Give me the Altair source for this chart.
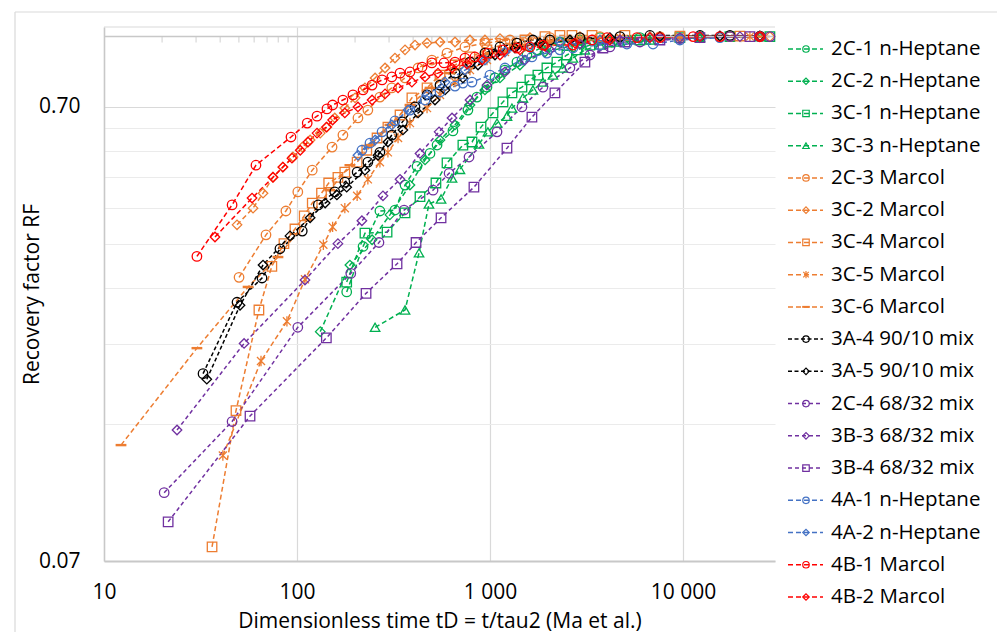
import altair as alt
import pandas as pd

# ---------------- data ----------------
names = ["2C-1 n-Heptane", "2C-2 n-Heptane", "3C-1 n-Heptane", "3C-3 n-Heptane",
         "2C-3 Marcol", "3C-2 Marcol", "3C-4 Marcol", "3C-5 Marcol", "3C-6 Marcol",
         "3A-4 90/10 mix", "3A-5 90/10 mix", "2C-4 68/32 mix", "3B-3 68/32 mix",
         "3B-4 68/32 mix", "4A-1 n-Heptane", "4A-2 n-Heptane", "4B-1 Marcol", "4B-2 Marcol"]

x_2C1 = [181, 220, 269, 322, 363, 419, 489, 532, 643, 769, 856, 965, 1062, 1196, 1380, 1555, 1752, 1973, 2305, 2926, 3715, 5987, 12250, 25060]
y_2C1 = [0.274, 0.345, 0.413, 0.415, 0.471, 0.518, 0.553, 0.577, 0.620, 0.689, 0.736, 0.774, 0.811, 0.844, 0.879, 0.911, 0.935, 0.958, 0.973, 0.983, 0.995, 0.995, 1.0, 1.0]

x_2C2 = [132, 188, 245, 303, 385, 461, 551, 659, 788, 942, 1127, 1430, 1927, 2926, 5313, 12250, 25060]
y_2C2 = [0.224, 0.314, 0.357, 0.405, 0.471, 0.535, 0.592, 0.639, 0.707, 0.763, 0.811, 0.866, 0.925, 0.963, 0.983, 0.995, 1.0]

x_3C1 = [181, 225, 293, 363, 434, 525, 599, 724, 807, 899, 1037, 1168, 1300, 1465, 1611, 1772, 1973, 2223, 2505, 2823, 3297, 4185, 5987, 9648, 17520, 28230]
y_3C1 = [0.288, 0.369, 0.371, 0.409, 0.444, 0.476, 0.527, 0.577, 0.586, 0.632, 0.679, 0.718, 0.752, 0.774, 0.803, 0.823, 0.853, 0.879, 0.911, 0.935, 0.958, 0.973, 0.983, 0.995, 1.0, 1.0]

x_3C3 = [254, 363, 429, 483, 558, 636, 699, 877, 976, 1088, 1225, 1300, 1482, 1670, 1881, 2120, 2388, 2691, 3105, 3715, 4716, 6745, 12250, 25060]
y_3C3 = [0.229, 0.250, 0.334, 0.428, 0.439, 0.488, 0.510, 0.580, 0.617, 0.645, 0.668, 0.696, 0.733, 0.763, 0.794, 0.823, 0.853, 0.897, 0.935, 0.958, 0.973, 0.983, 0.995, 1.0]

x_2C3 = [50.1, 69.1, 87.6, 101, 120, 152, 173, 207, 233, 269, 310, 363, 424, 500, 599, 742, 942, 1270, 2045, 3715, 7600, 17520]
y_2C3 = [0.295, 0.366, 0.413, 0.455, 0.508, 0.571, 0.607, 0.662, 0.689, 0.736, 0.771, 0.811, 0.853, 0.888, 0.920, 0.949, 0.968, 0.983, 0.995, 1.0, 1.0, 1.0]

x_3C2 = [48.9, 59.2, 66.7, 75.1, 84.5, 95.3, 106.5, 117, 132, 143, 157, 177, 200, 225, 254, 286, 322, 363, 409, 472, 551, 659, 788, 942, 1127, 1611, 2926, 6745, 15550, 28230]
y_3C2 = [0.385, 0.419, 0.452, 0.490, 0.516, 0.543, 0.571, 0.592, 0.613, 0.632, 0.662, 0.696, 0.733, 0.771, 0.811, 0.853, 0.897, 0.935, 0.958, 0.968, 0.973, 0.973, 0.983, 0.983, 0.990, 0.995, 1.0, 1.0, 1.0, 1.0]

x_3C4 = [36.3, 48.3, 63.5, 74.1, 85.6, 97.6, 109, 120, 134, 146, 163, 177, 205, 230, 260, 296, 342, 394, 472, 551, 659, 788, 965, 1196, 1518, 1927, 2305, 2660, 3380, 5005, 9648, 19740]
y_3C4 = [0.0752, 0.150, 0.250, 0.312, 0.350, 0.377, 0.403, 0.430, 0.452, 0.476, 0.490, 0.503, 0.529, 0.562, 0.598, 0.632, 0.672, 0.733, 0.771, 0.823, 0.866, 0.902, 0.935, 0.963, 0.983, 1.0, 1.006, 1.006, 1.006, 1.006, 1.003, 1.003]

x_3C5 = [41.3, 65.1, 88.7, 110, 137, 153, 177, 205, 233, 269, 296, 334, 385, 472, 551, 659, 788, 965, 1196, 1518, 2045, 2926, 4716, 9648, 22240]
y_3C5 = [0.1195, 0.193, 0.236, 0.292, 0.348, 0.381, 0.419, 0.446, 0.485, 0.529, 0.556, 0.598, 0.645, 0.696, 0.744, 0.794, 0.844, 0.888, 0.925, 0.953, 0.973, 0.990, 0.995, 1.0, 1.0]

x_3C6 = [12.25, 30.3, 55.8, 79.7, 113, 148, 188, 239, 303, 385, 489, 621, 788, 1000, 1348, 2045, 3715, 9648, 25060]
y_3C6 = [0.126, 0.206, 0.281, 0.327, 0.395, 0.459, 0.521, 0.577, 0.639, 0.707, 0.771, 0.831, 0.879, 0.920, 0.953, 0.978, 0.995, 1.0, 1.0]

x_3A4 = [32.6, 48.9, 65.9, 81.6, 106.5, 129, 157, 177, 205, 233, 269, 310, 352, 409, 472, 551, 659, 788, 942, 1127, 1380, 1670, 2045, 2926, 4716, 6745, 12250, 17520, 25060]
y_3A4 = [0.181, 0.260, 0.294, 0.341, 0.373, 0.426, 0.455, 0.478, 0.503, 0.529, 0.556, 0.607, 0.649, 0.700, 0.744, 0.782, 0.831, 0.879, 0.920, 0.949, 0.968, 0.983, 0.983, 0.995, 1.0, 1.006, 1.006, 1.006, 1.003]

x_3A5 = [34.1, 50.7, 66.7, 92.0, 117, 140, 161, 181, 225, 263, 296, 354, 424, 519, 585, 724, 867, 1062, 1348, 1815, 2597, 4185, 7600, 15550, 25060]
y_3A5 = [0.176, 0.256, 0.314, 0.364, 0.399, 0.430, 0.448, 0.466, 0.508, 0.548, 0.586, 0.623, 0.679, 0.725, 0.763, 0.811, 0.866, 0.911, 0.944, 0.968, 0.983, 0.995, 1.0, 1.003, 1.003]

x_2C4 = [20.5, 46.1, 101, 190, 266, 359, 507, 614, 779, 1088, 1465, 1881, 2597, 3297, 4185, 5987, 9648, 17520, 28230]
y_2C4 = [0.099, 0.142, 0.229, 0.301, 0.352, 0.415, 0.459, 0.500, 0.543, 0.617, 0.700, 0.774, 0.853, 0.911, 0.949, 0.973, 0.990, 1.0, 1.0]

x_3B3 = [23.9, 53.2, 110, 163, 217, 279, 342, 434, 545, 636, 788, 965, 1196, 1518, 2045, 2926, 4716, 9648, 19740]
y_3B3 = [0.136, 0.211, 0.291, 0.350, 0.393, 0.446, 0.485, 0.553, 0.617, 0.662, 0.725, 0.782, 0.836, 0.888, 0.935, 0.963, 0.983, 0.995, 1.0]

x_3B4 = [21.5, 57.1, 142, 228, 330, 414, 558, 826, 1225, 1650, 2171, 3105, 3849, 5005, 7600, 12250, 22240]
y_3B4 = [0.0854, 0.146, 0.217, 0.272, 0.316, 0.352, 0.399, 0.466, 0.568, 0.665, 0.752, 0.879, 0.944, 0.973, 0.983, 0.995, 1.0]

x_4A1 = [217, 239, 276, 322, 385, 461, 551, 659, 724, 807, 1000, 1196, 1465, 1650, 1973, 2305, 2691, 3715, 5124, 7000, 9648, 15550, 25060]
y_4A1 = [0.562, 0.583, 0.617, 0.652, 0.689, 0.725, 0.755, 0.778, 0.790, 0.794, 0.823, 0.853, 0.888, 0.902, 0.920, 0.935, 0.944, 0.958, 0.963, 0.963, 0.983, 0.995, 1.0]

x_4A2 = [207, 254, 310, 376, 472, 585, 742, 942, 1196, 1611, 2305, 3715, 6745, 12250, 25060]
y_4A2 = [0.548, 0.592, 0.639, 0.689, 0.744, 0.794, 0.844, 0.888, 0.925, 0.953, 0.973, 0.983, 0.995, 1.0, 1.0]

x_4B1 = [30.3, 46.1, 61.3, 93.1, 113, 127, 143, 153, 173, 195, 220, 245, 276, 310, 342, 385, 445, 500, 578, 659, 742, 836, 976, 1168, 1380, 1611, 1881, 2691, 3380, 4040, 5780, 7600, 11300, 15550, 25060]
y_4B1 = [0.328, 0.426, 0.521, 0.601, 0.645, 0.668, 0.693, 0.707, 0.725, 0.744, 0.763, 0.782, 0.803, 0.815, 0.831, 0.836, 0.857, 0.875, 0.875, 0.879, 0.897, 0.902, 0.920, 0.935, 0.944, 0.949, 0.958, 0.958, 0.983, 0.995, 0.995, 0.995, 1.0, 1.0, 1.0]

x_4B2 = [37.6, 58.5, 75.1, 84.5, 94.2, 104, 114, 127, 142, 153, 177, 207, 245, 286, 334, 394, 461, 538, 636, 760, 910, 1127, 1430, 1927, 2756, 4185, 6745, 12250, 25060]
y_4B2 = [0.362, 0.441, 0.490, 0.516, 0.540, 0.562, 0.586, 0.613, 0.632, 0.655, 0.679, 0.700, 0.725, 0.748, 0.771, 0.794, 0.815, 0.831, 0.853, 0.870, 0.888, 0.911, 0.935, 0.953, 0.968, 0.983, 0.995, 1.0, 1.0]

series_x = [x_2C1, x_2C2, x_3C1, x_3C3, x_2C3, x_3C2, x_3C4, x_3C5, x_3C6,
            x_3A4, x_3A5, x_2C4, x_3B3, x_3B4, x_4A1, x_4A2, x_4B1, x_4B2]
series_y = [y_2C1, y_2C2, y_3C1, y_3C3, y_2C3, y_3C2, y_3C4, y_3C5, y_3C6,
            y_3A4, y_3A5, y_2C4, y_3B3, y_3B4, y_4A1, y_4A2, y_4B1, y_4B2]

x_ticks = [10, 100, 1000, 10000]
y_ticks = [0.07, 0.14, 0.21, 0.28, 0.35, 0.42, 0.49, 0.56, 0.63, 0.7]
minor_x = [20, 30, 40, 50, 60, 70, 80, 90, 200, 300, 400, 500, 600, 700, 800, 900,
           2000, 3000, 4000, 5000, 6000, 7000, 8000, 9000, 20000]
axis_cross = [1.0]
y_top = [1.05]

# ---------------- styles ----------------
GREEN, ORANGE, BLACK, PURPLE, BLUE, RED = "#00B050", "#ED7D31", "#000000", "#7030A0", "#4472C4", "#FF0000"
colors = [GREEN] * 4 + [ORANGE] * 5 + [BLACK] * 2 + [PURPLE] * 3 + [BLUE] * 2 + [RED] * 2
ASTER = "M-0.85,-0.85L0.85,0.85M-0.85,0.85L0.85,-0.85M0,-1.1L0,1.1"
DASHM = "M-1,-0.12L1,-0.12L1,0.12L-1,0.12Z"
shapes = ["circle", "diamond", "square", "triangle-up",
          "circle", "diamond", "square", ASTER, DASHM,
          "circle", "diamond", "circle", "diamond", "square",
          "circle", "diamond", "circle", "diamond"]
dash_a, dash_b, dash_c = [5, 3], [4, 2.5], [4, 3]
dashes = [dash_a] * 9 + [dash_b] * 2 + [dash_c] * 3 + [dash_a] * 4

FONT = "Open Sans"

rows = []
for name, xs, ys in zip(names, series_x, series_y):
    for i, (xv, yv) in enumerate(zip(xs, ys)):
        rows.append({"series": name, "x": xv, "y": yv, "i": i})
df = pd.DataFrame(rows)

leg_df = pd.DataFrame({"series": names, "idx": list(range(len(names)))})

W, H = 671, 534

xscale = alt.Scale(type="log", domain=[10, 30000], nice=False)
yscale = alt.Scale(type="log", domain=[0.07, 1.05], nice=False)

color_enc = alt.Color("series:N", scale=alt.Scale(domain=names, range=colors), legend=None)
shape_enc = alt.Shape("series:N", scale=alt.Scale(domain=names, range=shapes), legend=None)
dash_enc = alt.StrokeDash("series:N", scale=alt.Scale(domain=names, range=dashes), legend=None)

xaxis = alt.Axis(values=x_ticks, labelExpr="replace(format(datum.value, ','), ',', ' ')",
                 title="Dimensionless time tD = t/tau2 (Ma et al.)",
                 grid=True, gridColor="#d9d9d9", gridWidth=1.2,
                 ticks=False, tickSize=0, domainColor="#c8c8c8", domainWidth=1.8,
                 labelFont=FONT, labelFontSize=21, labelColor="#000000", labelPadding=20,
                 labelFlush=False, labelOverlap=False,
                 titleFont=FONT, titleFontSize=21, titleFontWeight="normal", titleColor="#000000",
                 titleY=49)
yaxis = alt.Axis(values=y_ticks,
                 labelExpr="datum.value == 0.07 || datum.value == 0.7 ? format(datum.value, '.2f') : ''",
                 title="Recovery factor RF",
                 grid=True,
                 gridColor={"condition": {"test": "datum.value === 0.7", "value": "#d9d9d9"}, "value": "#ebebeb"},
                 gridWidth=1.2,
                 ticks=False, tickSize=0, domainColor="#c8c8c8", domainWidth=1.5,
                 labelFont=FONT, labelFontSize=21, labelColor="#000000", labelPadding=24,
                 labelOverlap=False, labelFlush=False,
                 titleFont=FONT, titleFontSize=21, titleFontWeight="normal", titleColor="#000000",
                 titleX=-62)

X = alt.X("x:Q", scale=xscale, axis=xaxis)
Y = alt.Y("y:Q", scale=yscale, axis=yaxis)

base = alt.Chart(df)
lines = base.mark_line(strokeWidth=1.5).encode(
    x=X, y=Y, color=color_enc, strokeDash=dash_enc, detail="series:N", order="i:Q")
points = base.mark_point(filled=False, size=90, strokeWidth=1.3, opacity=1).encode(
    x=X, y=Y, color=color_enc, shape=shape_enc)

axis_one = alt.Chart(pd.DataFrame({"y": axis_cross})).mark_rule(
    color="#c8c8c8", strokeWidth=1.5).encode(y=Y)
top_line = alt.Chart(pd.DataFrame({"y": y_top})).mark_rule(
    color="#d9d9d9", strokeWidth=1.2).encode(y=Y)
minor_df = pd.DataFrame({"x": minor_x, "y": axis_cross * len(minor_x)})
minor = alt.Chart(minor_df).mark_tick(orient="vertical", size=6, thickness=1.2,
                                      color="#c8c8c8", yOffset=3).encode(x=X, y=Y)

frame_df = pd.DataFrame({"k": [0]})
frame_left = alt.Chart(frame_df).mark_rule(color="#d9d9d9", strokeWidth=1.2).encode(
    x=alt.value(-89), y=alt.value(-15), y2=alt.value(620))
frame_top = alt.Chart(frame_df).mark_rule(color="#d9d9d9", strokeWidth=1.2).encode(
    x=alt.value(-89), x2=alt.value(900), y=alt.value(-15))

main = alt.layer(top_line, lines, axis_one, minor, points, frame_left, frame_top)

leg_y = alt.Y("idx:Q", scale=alt.Scale(domain=[0, 17], range=[22, 570]), axis=None)
leg_base = alt.Chart(leg_df)
leg_lines = leg_base.mark_rule(strokeWidth=1.5).encode(
    x=alt.value(684), x2=alt.value(719), y=leg_y, color=color_enc, strokeDash=dash_enc)
leg_pts = leg_base.mark_point(filled=False, size=42, strokeWidth=1.2, opacity=1).encode(
    x=alt.value(702), y=leg_y, color=color_enc, shape=shape_enc)
leg_text = leg_base.mark_text(align="left", baseline="middle", font=FONT, fontSize=20.5,
                              color="#000000").encode(
    x=alt.value(727), y=leg_y, text="series:N")
legend = alt.layer(leg_lines, leg_pts, leg_text)

chart = alt.layer(main, legend).resolve_scale(y="independent").properties(
    width=W, height=H,
    autosize=alt.AutoSizeParams(type="none"),
    padding={"left": 104, "top": 27, "right": 222, "bottom": 71},
    background="white",
).configure_view(stroke=None)

chart.save("out.html", embed_options={"renderer": "svg", "actions": False})
